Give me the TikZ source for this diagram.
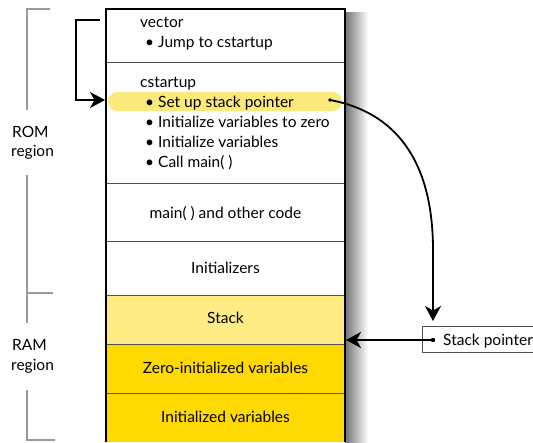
\documentclass[tikz,border=0pt]{standalone}
\usepackage{fontspec}
\setmainfont{Lato}
\usetikzlibrary{arrows.meta}
\definecolor{hl}{HTML}{FCE97C}
\definecolor{stackc}{HTML}{FFEC85}
\definecolor{goldc}{HTML}{FFD900}
\definecolor{regc}{HTML}{9A9A9A}
\definecolor{divc}{HTML}{505050}
\tikzset{
  txt/.style={inner sep=0pt, anchor=base west},
  ctxt/.style={inner sep=0pt, anchor=base},
  regline/.style={draw=regc, line width=1.6pt},
  divline/.style={draw=divc, line width=0.9pt},
  arr/.style={line width=1.8pt, -{Stealth[length=15pt,width=16pt,inset=4.5pt]}},
}
\newcommand{\bl}[1]{\makebox[13pt][l]{\textbullet}#1}
\begin{document}
\begin{tikzpicture}[x=1pt,y=-1pt, font=\fontsize{15.5}{18}\selectfont]
\useasboundingbox (0,0) rectangle (533,442);
% shadow
\shade[left color=black!55, right color=white] (345,12) rectangle (368,442);
% fills
\fill[white] (106,9) rectangle (345,295);
\fill[stackc] (106,295) rectangle (345,344);
\fill[goldc] (106,344) rectangle (345,442);
% highlight
\node[fill=hl, rounded corners=9.5pt, minimum width=234pt, minimum height=19pt, inner sep=0pt] (sethl) at (225,101.5) {};
% dividers
\draw[divline] (106,62) -- (345,62);
\draw[divline] (106,183) -- (345,183);
\draw[divline] (106,241) -- (345,241);
\draw[divline] (106,295) -- (345,295);
\draw[divline] (106,344) -- (345,344);
\draw[divline] (106,393) -- (345,393);
% outline
\draw[line width=1.4pt] (106,442) -- (106,9) -- (345,9) -- (345,442);
% texts
\node[txt] (vec) at (140,27) {vector};
\node[txt] (jump) at (145,47) {\bl{Jump to cstartup}};
\node[txt] (cst) at (140,87) {cstartup};
\node[txt] (set) at (145,107) {\bl{Set up stack pointer}};
\node[txt] (iz) at (145,127) {\bl{Initialize variables to zero}};
\node[txt] (iv) at (145,147) {\bl{Initialize variables}};
\node[txt] (cm) at (145,167) {\bl{Call main( )}};
\node[ctxt] (mainc) at (225.5,218) {main( ) and other code};
\node[ctxt] (inits) at (225.5,273) {Initializers};
\node[ctxt] (stack) at (225.5,323) {Stack};
\node[ctxt] (zero) at (225.5,373) {Zero-initialized variables};
\node[ctxt] (initv) at (225.5,422) {Initialized variables};
% region brackets
\draw[regline] (50,9) -- (27,9) -- (27,110);
\draw[regline] (27,175) -- (27,323);
\draw[regline] (27,293) -- (53,293);
\draw[regline] (27,390) -- (27,440) -- (55,440);
\node[txt] (rom1) at (12,137) {ROM};
\node[txt] (rom2) at (11,156) {region};
\node[txt] (ram1) at (12,350) {RAM};
\node[txt] (ram2) at (11,370) {region};
% stack pointer box
\draw[line width=0.8pt, draw=divc] (422,326) rectangle (540,352);
\node[txt] (sp) at (443,345) {Stack pointer};
\coordinate (spdot) at (433,340);
\fill (spdot) circle (2.2pt);
\coordinate (sptip) at (346,340);
\draw[arr] (spdot) -- (sptip);
% left jump arrow
\coordinate (jstart) at (100,20);
\coordinate (jend) at (105,100);
\draw[arr] (jstart) -- (76,20) -- (76,100) -- (jend);
% curve arrow
\coordinate (cstart) at (330,100);
\coordinate (ctip) at (433,321);
\fill (cstart) circle (1.8pt);
\draw[arr] (cstart) .. controls (395,112) and (433,160) .. (433,250) -- (ctip);
\end{tikzpicture}
\end{document}
